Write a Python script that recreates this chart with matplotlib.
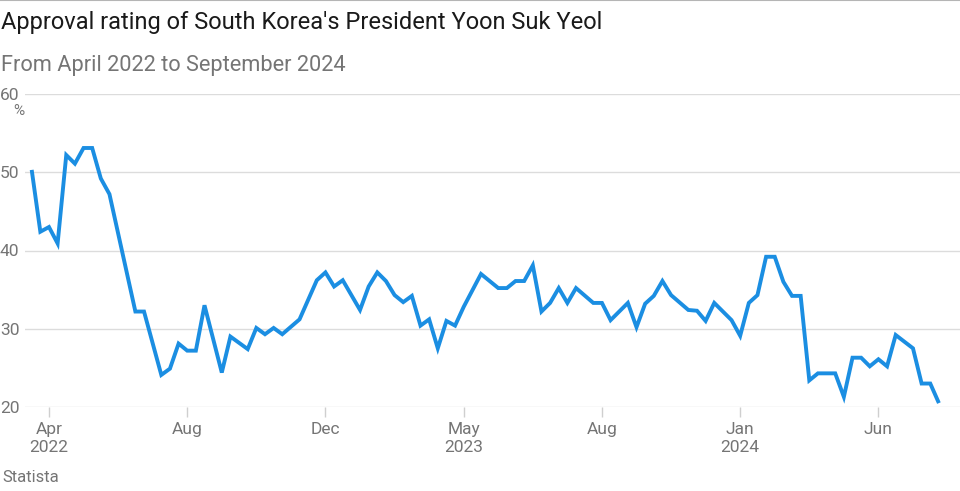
import matplotlib
matplotlib.use("Agg")
import matplotlib.pyplot as plt
from matplotlib.lines import Line2D

# vertex positions along the categorical x axis (one step per survey) and approval in %
idx = [0, 1, 2, 3, 4, 5, 6, 7, 8, 9, 12, 13, 15, 16, 17, 18, 19, 20, 22, 23,
       25, 26, 27, 28, 29, 31, 33, 34, 35, 36, 38, 39, 40, 41, 42, 43, 44, 45,
       46, 47, 48, 49, 50, 52, 54, 55, 56, 57, 58, 59, 60, 61, 62, 63, 65, 66,
       67, 69, 70, 71, 72, 73, 74, 76, 77, 78, 79, 81, 82, 83, 84, 85, 86, 87,
       88, 89, 90, 91, 93, 94, 95, 96, 97, 98, 99, 100, 102, 103, 104, 105]
approval = [50.3, 42.4, 43.0, 40.9, 52.2, 51.1, 53.1, 53.1, 49.2, 47.2, 32.2, 32.2,
            24.1, 24.9, 28.1, 27.2, 27.2, 33.0, 24.4, 29.0, 27.4, 30.1, 29.3, 30.1,
            29.3, 31.2, 36.2, 37.2, 35.4, 36.2, 32.4, 35.4, 37.2, 36.1, 34.3, 33.4,
            34.2, 30.4, 31.2, 27.5, 31.0, 30.4, 32.8, 37.0, 35.2, 35.2, 36.1, 36.1,
            38.1, 32.2, 33.3, 35.2, 33.3, 35.2, 33.3, 33.3, 31.1, 33.3, 30.2, 33.2,
            34.2, 36.1, 34.3, 32.4, 32.3, 31.0, 33.3, 31.1, 29.1, 33.3, 34.3, 39.2,
            39.2, 36.0, 34.2, 34.2, 23.4, 24.3, 24.3, 21.3, 26.3, 26.3, 25.2, 26.1,
            25.2, 29.2, 27.5, 23.0, 23.0, 20.5]

tick_pos = [2, 18, 34, 50, 66, 82, 98]
tick_labels = ["Apr\n2022", "Aug", "Dec", "May\n2023", "Aug", "Jan\n2024", "Jun"]
y_ticks = [20, 30, 40, 50, 60]

title_font = "Roboto"
tick_font = ["Liberation Sans Narrow", "Roboto", "DejaVu Sans"]
grey = "#757575"

fig = plt.figure(figsize=(9.6, 4.91), dpi=100)
ax = fig.add_axes([25 / 960, 1 - 407 / 491, 935 / 960, (407 - 94) / 491])

ax.plot(idx, approval, color="#1b8ee2", lw=2.8, solid_joinstyle="miter",
        solid_capstyle="butt", zorder=3)

ax.set_ylim(20, 60)
ax.set_xlim((25 - 31.7) / 8.64, (960 - 31.7) / 8.64)
ax.set_yticks(y_ticks)
ax.set_yticklabels([str(v) for v in y_ticks])
ax.grid(axis="y", color="#dcdcdc", lw=1)
ax.set_axisbelow(True)
for s in ax.spines.values():
    s.set_visible(False)

ax.set_xticks(tick_pos)
ax.set_xticklabels(tick_labels)
ax.tick_params(axis="x", length=7, width=1, color="#cfcfcf", pad=4,
               labelsize=12.5, labelcolor=grey)
ax.tick_params(axis="y", length=0, pad=0, labelsize=12.5, labelcolor=grey)
for lab in ax.get_xticklabels():
    lab.set_family(tick_font)
    lab.set_linespacing(1.25)
for lab in ax.get_yticklabels():
    lab.set_family(tick_font)
    lab.set_horizontalalignment("left")
    lab.set_x(-25 / 935)

# "%" unit label just under the 60 tick
ax.text(-12 / 935, 1 - 17 / 313, "%", transform=ax.transAxes, va="center",
        ha="left", fontsize=11, color=grey, family=tick_font)

fig.add_artist(Line2D([0, 1], [0.999, 0.999], color="#b5b5b5", lw=1.5))
fig.text(1 / 960, 1 - 22 / 491, "Approval rating of South Korea's President Yoon Suk Yeol",
         fontsize=17, family=title_font, color="#1a1a1a", va="center", ha="left")
fig.text(1 / 960, 1 - 66 / 491, "From April 2022 to September 2024",
         fontsize=15.7, family=title_font, color=grey, va="center", ha="left")
fig.text(2 / 960, 1 - 478 / 491, "Statista", fontsize=12, family=tick_font,
         color=grey, va="center", ha="left")

fig.savefig("out.png", dpi=100)
